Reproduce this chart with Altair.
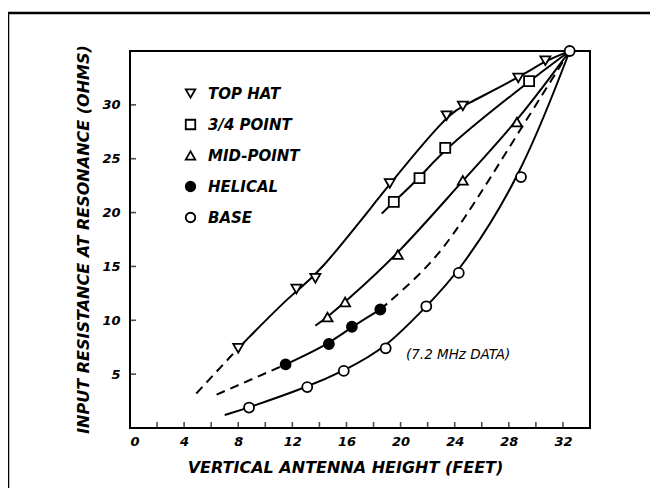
import altair as alt
import pandas as pd

# ---- data ----
series = ["TOP HAT", "3/4 POINT", "MID-POINT", "HELICAL", "BASE"]
shapes = ["triangle-down", "square", "triangle-up", "circle", "circle"]
fills = ["white", "white", "white", "black", "white"]
strokes = ["black", "black", "black", "black", "black"]

tophat_x = [8.0, 12.3, 13.7, 19.2, 23.4, 24.6, 28.7, 30.7]
tophat_y = [7.4, 12.9, 13.9, 22.7, 29.0, 29.9, 32.5, 34.1]
quarter_x = [19.5, 21.4, 23.3, 29.5]
quarter_y = [21.0, 23.2, 26.0, 32.2]
mid_x = [14.6, 15.9, 19.8, 24.6, 28.6]
mid_y = [10.3, 11.7, 16.1, 23.0, 28.4]
hel_x = [11.5, 14.7, 16.4, 18.5]
hel_y = [5.9, 7.8, 9.4, 11.0]
base_x = [8.8, 13.1, 15.8, 18.9, 21.9, 24.3, 28.9, 32.5]
base_y = [1.9, 3.8, 5.3, 7.4, 11.3, 14.4, 23.3, 35.0]

# curve segments: (series, style, xs, ys)
top_x, top_y = 32.5, 35.0
segments = [
    ("TOP HAT", "dash", [4.9, 8.0], [3.2, 7.4]),
    ("TOP HAT", "solid", tophat_x + [top_x], tophat_y + [top_y]),
    ("3/4 POINT", "solid", [18.6] + quarter_x + [top_x], [19.9] + quarter_y + [top_y]),
    ("MID-POINT", "solid", [13.7] + mid_x + [top_x], [9.5] + mid_y + [top_y]),
    ("HELICAL", "dash", [6.4, 11.5], [3.1, 5.9]),
    ("HELICAL", "solid", hel_x, hel_y),
    ("HELICAL", "dash", [18.5, 21.9, 24.4, 28.6, top_x], [11.0, 14.7, 18.7, 27.2, top_y]),
    ("BASE", "solid", [7.0] + base_x, [1.2] + base_y),
]

x_ticks = [2, 4, 6, 8, 10, 12, 14, 16, 18, 20, 22, 24, 26, 28, 30, 32]
x_labels = [0, 4, 8, 12, 16, 20, 24, 28, 32]
y_ticks = [5, 10, 15, 20, 25, 30]

note_text = ["(7.2 MHz DATA)"]
note_x = [20.4]
note_y = [6.8]

# ---- build tables ----
rows = []
for i, (s, st, xs_, ys_) in enumerate(segments):
    for j, (xv, yv) in enumerate(zip(xs_, ys_)):
        rows.append({"series": s, "style": st, "seg": i, "ord": j, "x": xv, "y": yv})
lines_df = pd.DataFrame(rows)

pts = []
for s, xs_, ys_ in zip(series, [tophat_x, quarter_x, mid_x, hel_x, base_x],
                       [tophat_y, quarter_y, mid_y, hel_y, base_y]):
    for xv, yv in zip(xs_, ys_):
        pts.append({"series": s, "x": xv, "y": yv})
pts_df = pd.DataFrame(pts)

FONT = "DejaVu Sans"
W, H = 460, 377

xs = alt.Scale(domain=[0, 34], nice=False, zero=False)
ys = alt.Scale(domain=[0, 35], nice=False, zero=False)

x_axis = alt.Axis(values=x_labels, format="d", ticks=False, tickSize=0, domain=False, grid=False,
                  labelFont=FONT, labelFontSize=13, labelFontStyle="italic", labelFontWeight="bold",
                  labelColor="black", labelPadding=7,
                  title="VERTICAL ANTENNA HEIGHT (FEET)", titleFont=FONT, titleFontSize=16,
                  titleFontStyle="italic", titleFontWeight="bold", titleColor="black",
                  titleX=215, titleY=39, titleBaseline="middle", titleAlign="center", titleAnchor="start")
y_axis = alt.Axis(values=y_ticks, format="d", ticks=False, tickSize=0, domain=False, grid=False,
                  labelFont=FONT, labelFontSize=13, labelFontStyle="italic", labelFontWeight="bold",
                  labelColor="black", labelPadding=10,
                  title="INPUT RESISTANCE AT RESONANCE (OHMS)", titleFont=FONT, titleFontSize=16,
                  titleFontStyle="italic", titleFontWeight="bold", titleColor="black",
                  titleAngle=270, titleX=-47, titleY=188, titleBaseline="middle", titleAlign="center",
                  titleAnchor="start")

base = alt.Chart(lines_df)
solid = base.transform_filter(alt.datum.style == "solid").mark_line(
    color="black", strokeWidth=2, interpolate="basis").encode(
    x=alt.X("x:Q", scale=xs, axis=x_axis),
    y=alt.Y("y:Q", scale=ys, axis=y_axis),
    detail="seg:N", order="ord:Q")
dashed = base.transform_filter(alt.datum.style == "dash").mark_line(
    color="black", strokeWidth=2, strokeDash=[9, 6], interpolate="basis").encode(
    x=alt.X("x:Q", scale=xs), y=alt.Y("y:Q", scale=ys), detail="seg:N", order="ord:Q")

legend = alt.Legend(orient="none", legendX=53, legendY=35, title=None, padding=0,
                    labelFont=FONT, labelFontSize=15, labelFontStyle="italic", labelFontWeight="bold",
                    labelColor="black", labelOffset=10, rowPadding=14, symbolSize=90,
                    symbolStrokeWidth=1.8)
points = alt.Chart(pts_df).mark_point(strokeWidth=1.8, size=100, opacity=1).encode(
    x=alt.X("x:Q", scale=xs), y=alt.Y("y:Q", scale=ys),
    shape=alt.Shape("series:N", scale=alt.Scale(domain=series, range=shapes), legend=legend),
    fill=alt.Fill("series:N", scale=alt.Scale(domain=series, range=fills), legend=legend),
    stroke=alt.Stroke("series:N", scale=alt.Scale(domain=series, range=strokes), legend=legend),
)

xt = alt.Chart(pd.DataFrame({"t": x_ticks})).mark_tick(
    orient="vertical", color="black", size=6, thickness=1.6, yOffset=-3).encode(
    x=alt.X("t:Q", scale=xs), y=alt.datum(0, scale=ys))
yt = alt.Chart(pd.DataFrame({"t": y_ticks})).mark_tick(
    orient="horizontal", color="black", size=6, thickness=1.6, xOffset=3).encode(
    y=alt.Y("t:Q", scale=ys), x=alt.datum(0, scale=xs))

note = alt.Chart(pd.DataFrame({"x": note_x, "y": note_y, "t": note_text})).mark_text(
    font=FONT, fontSize=13.5, fontStyle="italic", align="left", baseline="middle", color="black").encode(
    x=alt.X("x:Q", scale=xs), y=alt.Y("y:Q", scale=ys), text="t:N")

# figure border (left and top lines)
border_left = alt.Chart(pd.DataFrame({"a": [0]})).mark_rule(color="black", strokeWidth=2.5).encode(
    x=alt.value(-122), y=alt.value(-38), y2=alt.value(H + 60))
border_top = alt.Chart(pd.DataFrame({"a": [0]})).mark_rule(color="black", strokeWidth=2.5).encode(
    x=alt.value(-122), x2=alt.value(W + 60), y=alt.value(-38))

chart = alt.layer(solid, dashed, points, xt, yt, note, border_left, border_top).properties(
    width=W, height=H, autosize="none",
    padding={"left": 122, "top": 43, "right": 60, "bottom": 60},
    background="white",
).configure_view(stroke="black", strokeWidth=2)

chart.save("out.html", embed_options={"renderer": "svg", "actions": False})
